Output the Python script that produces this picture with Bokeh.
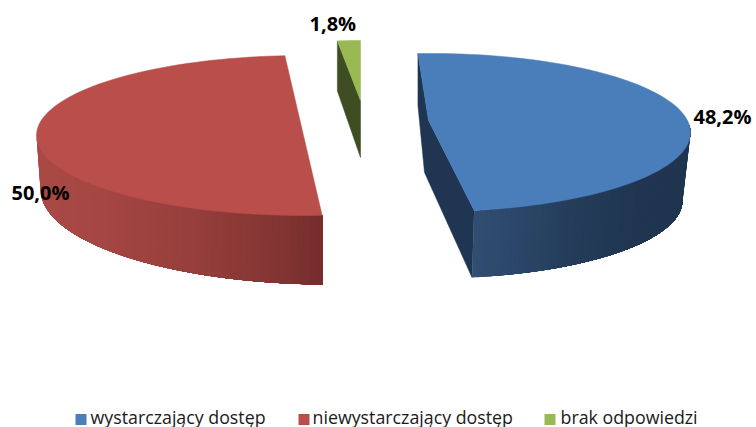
import math
from bokeh.plotting import figure
from bokeh.embed import file_html
from bokeh.resources import INLINE
from bokeh.core.properties import value

categories = ["wystarczający dostęp", "niewystarczający dostęp", "brak odpowiedzi"]
shares = [48.2, 50.0, 1.8]
labels = ["48,2%", "50,0%", "1,8%"]
top_colors = ["#4a7ebb", "#b94e4a", "#98b954"]

W, H = 756, 427
p = figure(width=W, height=H, x_range=(0, W), y_range=(H, 0),
           output_backend="svg", toolbar_location=None, min_border=0)
p.axis.visible = False
p.grid.visible = False
p.outline_line_color = None

def ell(e, deg):
    t = math.radians(deg)
    return e[0] + e[2] * math.cos(t), e[1] + e[3] * math.sin(t)

def arc(e, a0, a1, n=90):
    return [ell(e, a0 + (a1 - a0) * i / n) for i in range(n + 1)]

def mix(stops, f):
    if f <= stops[0][0]:
        return "#%02x%02x%02x" % tuple(stops[0][1])
    for (f0, c0), (f1, c1) in zip(stops, stops[1:]):
        if f <= f1:
            k = (f - f0) / (f1 - f0)
            rgb = [round(c0[i] + (c1[i] - c0[i]) * k) for i in range(3)]
            return "#%02x%02x%02x" % tuple(rgb)
    return "#%02x%02x%02x" % tuple(stops[-1][1])

def poly(pts, color):
    p.patch([q[0] for q in pts], [q[1] for q in pts], fill_color=color, line_color=color, line_width=0.5)

def wall(etop, ebot, t0, t1, u0, u1, xstops, n=70):
    # painter's bands: every band runs on to the far end of the wall, so no seams show
    for i in range(n):
        f, fm = i / n, (i + 0.5) / n
        pts = arc(etop, t0 + (t1 - t0) * f, t1, 24) + arc(ebot, u1, u0 + (u1 - u0) * f, 24)
        c = mix(xstops, ell(etop, t0 + (t1 - t0) * fm)[0])
        p.patch([q[0] for q in pts], [q[1] for q in pts], fill_color=c, line_color=None)

# slice 3: green
g_sweep = shares[2] * 3.6
g_c = (360, 100)
g_e = (360, 100, 205, 60)
g_arc = arc(g_e, 270 - g_sweep, 270, 8)
poly([g_arc[0], (g_arc[0][0], g_arc[0][1] + 50), (g_c[0], g_c[1] + 57), g_c], "#3f4d23")
poly([g_c] + g_arc, top_colors[2])

# slice 1: blue
b_top = (431, 132, 259, 79)
b_bot = (430, 200, 252, 78)
b_start = -93.0
b_end = b_start + shares[0] * 3.6
b_c = (428, 120)
s = ell(b_top, b_start)
e_t, e_b = ell(b_top, b_end), ell(b_bot, b_end)
poly([s, (s[0], s[1] + 52), (424, 172), e_b, e_t, b_c], "#1f3552")
wall(b_top, b_bot, b_end, -5, b_end, -5,
     [(470, (49, 79, 116)), (570, (37, 61, 91)), (640, (31, 53, 80)), (700, (31, 53, 80))])
poly(arc(b_top, b_start, b_end) + [b_c], top_colors[0])

# slice 2: red
r_top = (303, 135, 267, 80)
r_bot = (330, 189, 290, 95)
r_start = 86.0
r_end = r_start + shares[1] * 3.6
r_c = (303, 135)
wall(r_top, r_bot, 180, r_start, 180, 91.6,
     [(30, (170, 74, 70)), (100, (165, 70, 67)), (200, (148, 62, 59)), (280, (130, 52, 50)), (325, (115, 45, 44))])
poly(arc(r_top, r_start, r_end) + [r_c], top_colors[1])

# data labels
lab_x = [693, 11, 309]
lab_y = [116, 192, 23]
p.text(lab_x, lab_y, text=labels, text_font=value("Open Sans"), text_font_style="bold",
       text_font_size="20px", text_color="#000000", text_baseline="alphabetic", text_align="left")

# legend
sq_x = [75, 298, 544]
txt_x = [90, 312, 560]
p.scatter([x + 5.5 for x in sq_x], [419] * 3, marker="square", size=11, fill_color=top_colors, line_color=None)
p.text(txt_x, [416] * 3, text=categories, text_font=value("Open Sans"), text_font_size="17.8px",
       text_color="#1a1a1a", text_baseline="alphabetic", text_align="left")

open("out.html", "w").write(file_html(p, INLINE))
